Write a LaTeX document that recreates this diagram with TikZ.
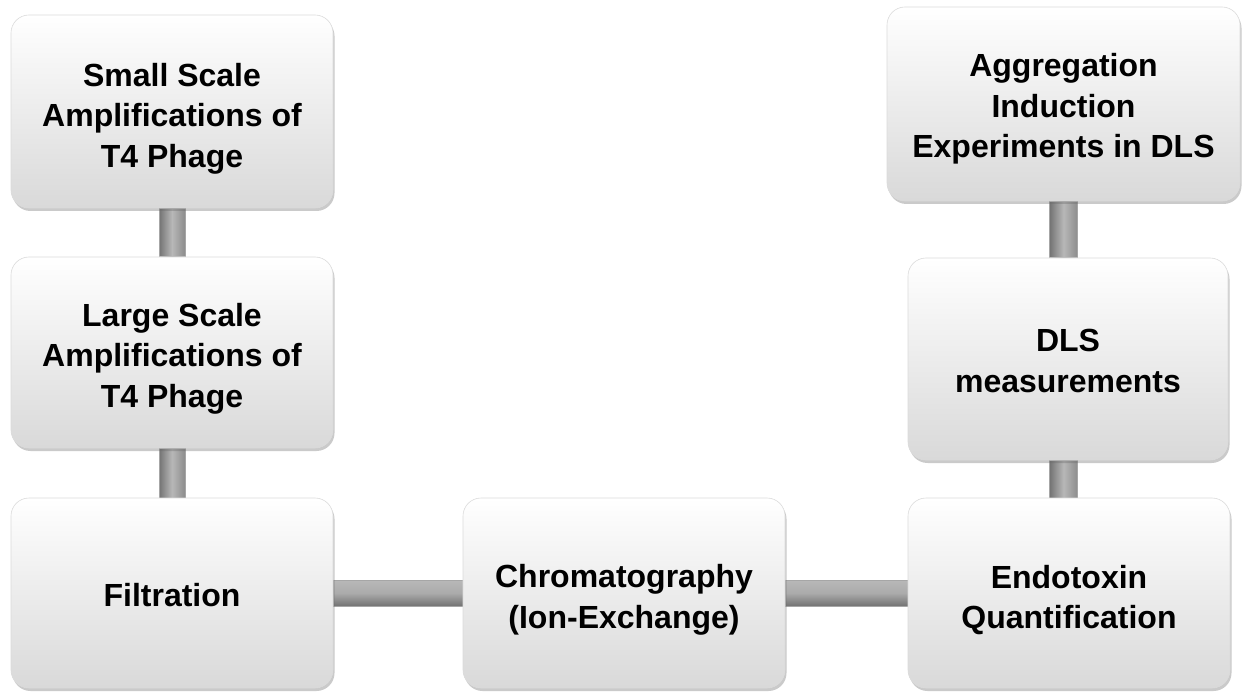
\documentclass[tikz,border=0pt]{standalone}
\usepackage{fontspec}
\setmainfont{Liberation Sans}
\usetikzlibrary{shadows,backgrounds}
\begin{document}
\begin{tikzpicture}[x=1pt,y=-1pt,
  stepbox/.style={rectangle, rounded corners=18pt, top color=white, bottom color=black!15,
    draw=black!14, line width=0.6pt,
    drop shadow={shadow xshift=1.5pt, shadow yshift=-3pt, opacity=0.35, fill=black!60},
    inner sep=0pt},
  boxtext/.style={align=center, font=\bfseries\fontsize{32}{40.5}\selectfont, text=black, inner sep=0pt},
  vpipe/.style={left color=black!55, right color=black!45, middle color=black!28, draw=black!35, line width=0.4pt},
  hpipe/.style={top color=black!28, bottom color=black!55, middle color=black!33, draw=black!35, line width=0.4pt}]
\useasboundingbox (0,0) rectangle (1242,692);
\node[stepbox, minimum width=322pt, minimum height=193pt] (s) at (172,111.5) {};
\node[stepbox, minimum width=322pt, minimum height=191pt] (l) at (172,352.5) {};
\node[stepbox, minimum width=322pt, minimum height=190pt] (f) at (172,593) {};
\node[stepbox, minimum width=322pt, minimum height=190pt] (c) at (624,593) {};
\node[stepbox, minimum width=322pt, minimum height=190pt] (e) at (1069,593) {};
\node[stepbox, minimum width=320pt, minimum height=202pt] (d) at (1068,359) {};
\node[stepbox, minimum width=353pt, minimum height=194pt] (a) at (1063.5,104) {};
\node[boxtext] (st) at ([yshift=-7pt]s.center) {Small Scale\\Amplifications of\\T4 Phage};
\node[boxtext] (lt) at ([yshift=-6pt]l.center) {Large Scale\\Amplifications of\\T4 Phage};
\node[boxtext] (ft) at ([yshift=-2pt]f.center) {Filtration};
\node[boxtext] (ct) at ([yshift=-7pt]c.center) {Chromatography\\(Ion-Exchange)};
\node[boxtext] (et) at ([yshift=-7pt]e.center) {Endotoxin\\Quantification};
\node[boxtext] (dt) at ([yshift=-2pt]d.center) {DLS\\measurements};
\node[boxtext] (at) at ([yshift=-5pt]a.center) {Aggregation\\Induction\\Experiments in DLS};
\begin{pgfonlayer}{background}
  \path[vpipe] ([xshift=-13pt]s.south) rectangle ([xshift=13pt]l.north);
  \path[vpipe] ([xshift=-13pt]l.south) rectangle ([xshift=13pt]f.north);
  \path[hpipe] ([yshift=-13pt]f.east) rectangle ([yshift=13pt]c.west);
  \path[hpipe] ([yshift=-13pt]c.east) rectangle ([yshift=13pt]e.west);
  \path[vpipe] ([xshift=-14pt]e.north -| a.south) rectangle ([xshift=14pt]d.south -| a.south);
  \path[vpipe] ([xshift=-14pt]d.north -| a.south) rectangle ([xshift=14pt]a.south);
\end{pgfonlayer}
\end{tikzpicture}
\end{document}
